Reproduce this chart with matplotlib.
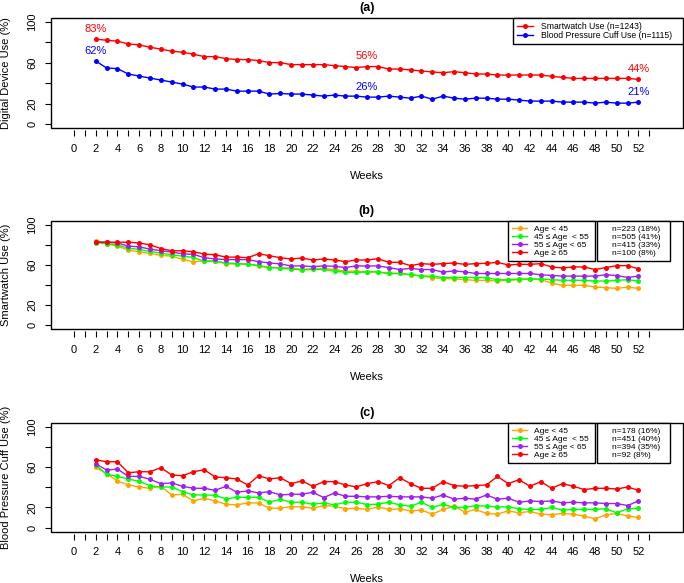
import matplotlib.pyplot as plt
from matplotlib.lines import Line2D
from matplotlib.patches import Rectangle

plt.rcParams['font.family'] = ['Liberation Sans', 'DejaVu Sans']

# ---- data ----
weeks = list(range(2, 53))

# (a) overall use
smartwatch_all = [83.2, 82.2, 81.2, 78.6, 77.6, 75.3, 73.4, 71.4, 70.4, 68.4, 66.1, 66.1, 64.1, 63.2, 63.2, 62.2,
                  60.2, 60.2, 58.2, 58.2, 58.2, 58.2, 57.2, 56.3, 55.3, 56.3, 56.3, 53.9, 53.9, 53.0, 52.0, 51.0,
                  50.3, 51.3, 50.3, 49.0, 49.0, 48.0, 48.0, 48.0, 48.0, 48.0, 46.7, 45.7, 44.7, 44.7, 44.7, 44.7,
                  44.7, 44.7, 43.8]
cuff_all = [61.8, 54.9, 54.3, 49.0, 47.0, 45.0, 43.1, 41.1, 39.1, 36.2, 36.2, 34.2, 34.2, 32.2, 32.2, 32.2,
            29.3, 29.9, 29.3, 29.3, 28.3, 27.3, 28.3, 27.3, 27.3, 26.3, 26.3, 27.3, 26.3, 25.3, 27.3, 24.3,
            27.3, 25.3, 24.3, 25.3, 25.3, 24.3, 24.3, 23.4, 22.4, 22.4, 22.4, 21.4, 21.4, 21.4, 20.4, 21.4,
            20.4, 20.4, 21.4]
label_weeks = [2, 27, 52]

# (b) smartwatch use by age
sw_lt45 = [84.0, 81.0, 78.7, 74.8, 72.8, 71.5, 69.5, 68.8, 65.6, 63.0, 64.2, 64.2, 61.0, 61.0, 61.0, 58.7,
           57.7, 57.1, 57.1, 55.5, 56.5, 56.5, 55.5, 53.8, 53.8, 53.1, 53.1, 51.5, 51.5, 50.2, 48.9, 47.5,
           46.3, 46.3, 45.3, 44.7, 44.7, 44.0, 44.7, 45.3, 46.0, 45.3, 42.0, 39.7, 39.7, 39.7, 38.0, 37.4,
           36.7, 38.0, 36.7]
sw_45_55 = [82.3, 81.0, 80.0, 76.7, 75.4, 73.4, 71.8, 70.1, 68.8, 67.5, 63.6, 63.6, 62.0, 61.3, 60.6, 59.7,
            57.1, 57.1, 55.8, 55.1, 55.5, 55.5, 53.8, 52.8, 52.5, 53.1, 53.1, 51.5, 51.5, 50.5, 48.9, 48.9,
            47.5, 47.5, 47.5, 47.4, 47.4, 45.3, 45.3, 46.0, 46.0, 46.0, 45.3, 44.7, 44.7, 44.7, 44.0, 44.0,
            44.7, 45.3, 44.0]
sw_55_65 = [82.6, 82.6, 81.9, 78.7, 78.0, 75.7, 74.1, 72.8, 71.1, 70.5, 67.2, 65.9, 65.3, 65.3, 65.3, 63.3,
            62.0, 61.0, 59.0, 59.0, 58.4, 59.0, 58.7, 57.4, 59.0, 59.0, 59.0, 57.4, 55.4, 56.7, 55.4, 55.4,
            52.8, 54.1, 53.1, 51.5, 51.5, 51.5, 51.5, 51.5, 51.5, 50.2, 49.5, 48.9, 48.9, 48.9, 48.9, 50.2,
            49.5, 47.5, 48.9]
sw_ge65 = [82.6, 82.6, 82.6, 82.6, 81.9, 80.0, 76.3, 74.1, 74.1, 73.1, 70.8, 70.1, 67.8, 67.8, 67.2, 71.1,
           69.2, 67.2, 65.9, 66.9, 64.9, 65.9, 64.9, 63.3, 64.9, 64.9, 66.2, 62.6, 62.6, 59.3, 61.3, 60.6,
           61.3, 61.9, 60.6, 61.3, 61.6, 62.6, 60.0, 60.6, 60.6, 61.3, 58.0, 57.0, 58.0, 58.0, 55.4, 57.4,
           59.3, 59.3, 56.1]
sw_n = ['n=223 (18%)', 'n=505 (41%)', 'n=415 (33%)', 'n=100 (8%)']

# (c) blood pressure cuff use by age
cuff_lt45 = [60.0, 53.4, 46.2, 42.3, 40.3, 39.0, 41.0, 32.4, 33.1, 26.5, 29.1, 26.5, 23.2, 22.6, 24.5, 24.5,
             19.3, 19.3, 20.9, 20.6, 19.3, 21.9, 21.3, 18.7, 19.3, 18.0, 20.6, 18.0, 18.7, 16.7, 17.4, 13.4,
             18.0, 21.3, 15.4, 18.0, 14.1, 13.4, 16.7, 14.7, 16.1, 13.4, 12.8, 14.1, 13.4, 11.4, 8.8, 12.8,
             14.1, 11.4, 10.1]
cuff_45_55 = [62.0, 52.8, 50.8, 48.2, 45.9, 41.6, 40.3, 40.3, 35.7, 32.4, 32.4, 32.1, 28.5, 30.1, 30.1, 30.1,
              25.2, 28.2, 25.2, 25.2, 23.2, 24.5, 22.6, 25.2, 25.2, 22.9, 23.2, 25.2, 22.6, 21.3, 25.2, 20.0,
              23.2, 20.0, 20.0, 21.9, 21.3, 20.6, 20.6, 18.7, 18.0, 18.0, 20.0, 17.4, 18.0, 18.0, 18.0, 18.7,
              14.7, 18.7, 19.3]
cuff_55_65 = [63.3, 57.0, 58.1, 50.8, 50.8, 47.9, 43.6, 44.3, 41.0, 39.0, 39.0, 37.0, 41.0, 35.1, 36.4, 34.4,
              35.7, 32.4, 33.1, 33.1, 35.1, 29.8, 34.4, 31.1, 31.1, 30.5, 30.5, 31.1, 30.5, 30.5, 30.5, 29.2,
              32.4, 28.2, 29.2, 28.2, 32.4, 28.2, 29.2, 25.2, 26.5, 25.9, 26.5, 24.6, 25.2, 24.6, 24.6, 23.9,
              23.9, 21.9, 26.5]
cuff_ge65 = [67.2, 65.3, 65.3, 54.4, 55.4, 55.4, 59.4, 52.2, 51.5, 55.4, 57.4, 50.2, 49.5, 48.2, 42.3, 51.5,
             48.2, 49.5, 43.6, 46.3, 41.0, 45.6, 45.6, 42.3, 40.4, 43.6, 45.6, 41.7, 49.5, 43.6, 39.0, 39.0,
             45.6, 41.7, 41.0, 41.7, 42.3, 50.8, 43.6, 47.5, 41.0, 45.6, 39.0, 43.6, 41.0, 37.7, 39.0, 39.0,
             38.3, 40.3, 37.0]
cuff_n = ['n=178 (16%)', 'n=451 (40%)', 'n=394 (35%)', 'n=92 (8%)']

age_labels = ['Age < 45', '45 \u2264 Age  < 55', '55 \u2264 Age < 65', 'Age \u2265 65']
age_colors = ['#FFA500', '#00FF00', '#A020F0', '#FF0000']

# ---- layout (pixel boxes measured on the original) ----
W, H = 684, 583
fig = plt.figure(figsize=(W / 100, H / 100), dpi=100)


def px_axes(left, top, right, bottom):
    return fig.add_axes([left / W, 1 - bottom / H, (right - left) / W, (bottom - top) / H])


def style(ax, ylabel, title, height_px):
    ax.set_xlim(-2.15, 56.1)
    ax.set_ylim(-4, 104)
    for s in ax.spines.values():
        s.set_visible(False)
    ax.add_patch(Rectangle((0, 0), 1, 1, transform=ax.transAxes, fill=False,
                           lw=1.0, ec='black', clip_on=False, zorder=5))
    ax.spines['bottom'].set_position(('outward', 1.5))
    xt = list(range(0, 54))
    ax.set_xticks(xt, [str(w) if w % 2 == 0 else '' for w in xt])
    ax.tick_params(axis='x', length=4.3, width=0.8, pad=5.5, labelsize=8)
    ax.set_yticks([0, 20, 40, 60, 80, 100], ['0', '20', '', '60', '', '100'])
    ax.tick_params(axis='y', length=4.5, width=0.8, pad=5, labelsize=8)
    plt.setp(ax.get_yticklabels(), rotation=90, va='center')
    ax.set_ylabel(ylabel, fontsize=8)
    ax.yaxis.set_label_coords(-0.063, 0.5)
    ax.set_xlabel('Weeks', fontsize=8)
    ax.xaxis.set_label_coords(0.5, -42.5 / height_px)
    ax.set_title(title, fontsize=9, fontweight='bold', pad=5)


def line(ax, y, color, label):
    return ax.plot(weeks, y, color=color, lw=1.0, marker='o', ms=3.6, mew=0, label=label)[0]


def frame(leg):
    f = leg.get_frame()
    f.set_linewidth(1.0)
    f.set_edgecolor('black')
    leg.set_zorder(6)


# (a)
ax1 = px_axes(50.7, 18, 683, 128)
style(ax1, 'Digital Device Use (%)', '(a)', 110)
h1 = line(ax1, smartwatch_all, '#FF0000', 'Smartwatch Use (n=1243)')
h2 = line(ax1, cuff_all, '#0000FF', 'Blood Pressure Cuff Use (n=1115)')
for vals, col in [(smartwatch_all, '#FF0000'), (cuff_all, '#0000FF')]:
    for w in label_weeks:
        v = vals[weeks.index(w)]
        ax1.text(w, v + 10, f'{v:.0f}%', color=col, fontsize=8, ha='center', va='center')
leg = ax1.legend(handles=[h1, h2], loc='upper left', bbox_to_anchor=(0.7312, 0, 0.2689, 1),
                 mode='expand', borderaxespad=0, fontsize=6.2, fancybox=False, framealpha=1,
                 handlelength=1.85, handletextpad=0.9, borderpad=0.44, labelspacing=0.07)
frame(leg)


def age_panel(ax, series, n_labels):
    handles = [line(ax, y, c, lab) for y, c, lab in zip(series, age_colors, age_labels)]
    leg1 = ax.legend(handles=handles, loc='upper left', bbox_to_anchor=(0.7232, 0, 0.1371, 1),
                     mode='expand', borderaxespad=0, fontsize=6, fancybox=False, framealpha=1,
                     handlelength=1.8, handletextpad=0.85, borderpad=0.5, labelspacing=0.03)
    frame(leg1)
    ax.add_artist(leg1)
    blanks = [Line2D([], [], color='none') for _ in n_labels]
    leg2 = ax.legend(handles=blanks, labels=n_labels, loc='upper left',
                     bbox_to_anchor=(0.8637, 0, 0.1159, 1), mode='expand', borderaxespad=0,
                     fontsize=6, fancybox=False, framealpha=1, handlelength=0.9,
                     handletextpad=0.43, borderpad=0.5, labelspacing=0.03)
    frame(leg2)


# (b)
ax2 = px_axes(50.7, 220.7, 683, 329.3)
style(ax2, 'Smartwatch Use (%)', '(b)', 108.6)
age_panel(ax2, [sw_lt45, sw_45_55, sw_55_65, sw_ge65], sw_n)

# (c)
ax3 = px_axes(50.7, 422.7, 683, 531.7)
style(ax3, 'Blood Pressure Cuff Use (%)', '(c)', 109)
age_panel(ax3, [cuff_lt45, cuff_45_55, cuff_55_65, cuff_ge65], cuff_n)

fig.savefig('out.png', dpi=100)
